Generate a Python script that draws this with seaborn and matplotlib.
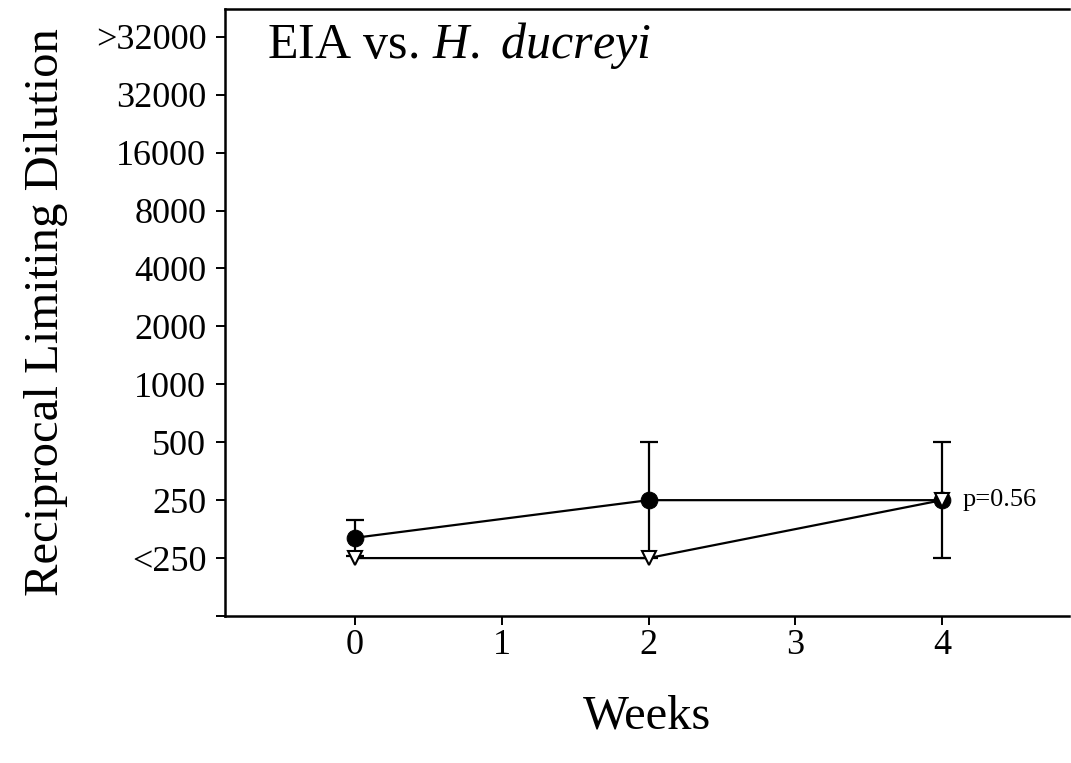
import numpy as np
import pandas as pd
import matplotlib
matplotlib.use("Agg")
import matplotlib.pyplot as plt
import seaborn as sns

# Titer levels (ordinal scale) and weeks sampled
level_labels = ["<250", "250", "500", "1000", "2000", "4000", "8000", "16000", "32000", ">32000"]
weeks = [0, 2, 4]

# Mean titer level index per group (0 = "<250")
filled_mean = [0.35, 1.0, 1.0]
filled_err = [0.31, 1.0, 1.0]
open_mean = [0.0, 0.0, 1.0]

df = pd.DataFrame({
    "week": weeks * 2,
    "level": filled_mean + open_mean,
    "group": ["filled"] * 3 + ["open"] * 3,
})

sns.set_style("ticks")
plt.rcParams["font.family"] = ["Liberation Serif", "DejaVu Serif"]
plt.rcParams["mathtext.fontset"] = "custom"
plt.rcParams["mathtext.rm"] = "Liberation Serif"
plt.rcParams["mathtext.it"] = "Liberation Serif:italic"
for key in ["text.color", "axes.labelcolor", "xtick.color", "ytick.color", "axes.edgecolor"]:
    plt.rcParams[key] = "black"

fig = plt.figure(figsize=(10.71, 7.63), dpi=100)
W, H = 1071, 763
ax = fig.add_axes([225 / W, (H - 616) / H, (1069 - 225) / W, (616 - 9) / H])

filled = df[df.group == "filled"]
opened = df[df.group == "open"]

ax.errorbar(filled["week"], filled["level"], yerr=filled_err, fmt="none",
            ecolor="black", elinewidth=1.6, capsize=6.2, capthick=1.6, zorder=2)
sns.lineplot(data=filled, x="week", y="level", ax=ax, color="black", linewidth=1.6,
             marker="o", markersize=12, markerfacecolor="black",
             markeredgecolor="black", zorder=3)
sns.lineplot(data=opened, x="week", y="level", ax=ax, color="black", linewidth=1.6,
             marker="v", markersize=10, markerfacecolor="white",
             markeredgecolor="black", markeredgewidth=1.5, zorder=4)

ax.text(4.14, 1.0, "p=0.56", fontsize=19, va="center", ha="left")
ax.text(-0.6, 8.85, "EIA vs. $\\mathit{H.}$ $\\mathit{ducreyi}$", fontsize=36, va="center", ha="left")

ax.set_xlim(-0.886, 4.865)
ax.set_ylim(-1.0, 9.48)
ax.set_xticks([0, 1, 2, 3, 4])
ax.set_xticklabels(["0", "1", "2", "3", "4"], fontsize=26)
ax.set_yticks(np.arange(-1, 10))
ax.set_yticklabels([""] + level_labels, fontsize=26)
ax.tick_params(axis="y", direction="out", length=6.5, width=1.4, pad=7)
ax.tick_params(axis="x", direction="out", length=6.5, width=1.4, pad=3)

ax.set_xlabel("Weeks", fontsize=35, labelpad=23)
ax.set_ylabel("Reciprocal Limiting Dilution", fontsize=35, labelpad=20)

for side in ["left", "bottom", "top"]:
    ax.spines[side].set_linewidth(1.8)
ax.spines["right"].set_visible(False)

fig.savefig("out.png", dpi=100)
